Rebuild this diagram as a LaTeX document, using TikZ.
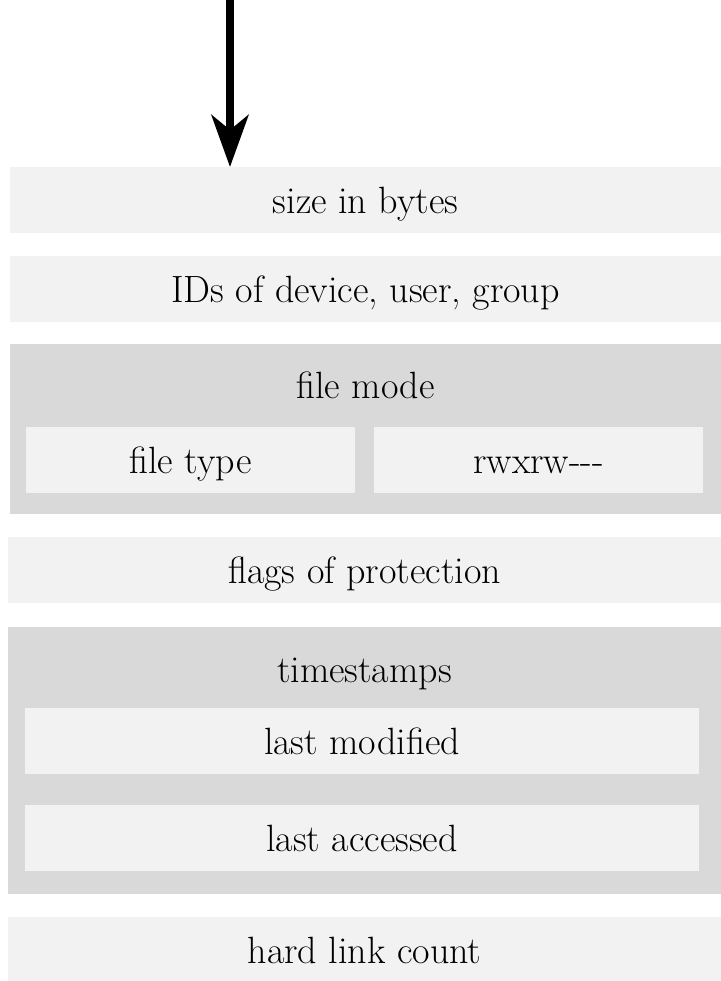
\documentclass[tikz,border=0pt]{standalone}
\usepackage{tikz}
\usetikzlibrary{positioning, arrows.meta}

\definecolor{cellgray}{HTML}{F2F2F2}
\definecolor{groupgray}{HTML}{D9D9D9}

\begin{document}
\begin{tikzpicture}[
        cell/.style={
            fill=cellgray, inner sep=0pt, outer sep=0pt,
            minimum width=356.5pt, minimum height=33pt,
            font=\fontsize{19}{23}\selectfont,
            text height=13pt, text depth=0pt
        },
        group/.style={
            fill=groupgray, inner sep=0pt, outer sep=0pt,
            minimum width=356.5pt
        },
        grouplabel/.style={
            inner sep=0pt, font=\fontsize{19}{23}\selectfont,
            text height=13pt, text depth=0pt
        },
        arr/.style={-{Stealth[length=26pt, width=18.5pt, inset=7.5pt]}, line width=4pt}
    ]
    \useasboundingbox (0,0) rectangle (360.5pt,-490.5pt);

    \node[cell, minimum width=355.5pt, anchor=north east] (size) at (360.5pt,-83.5pt) {size in bytes};
    \node[cell, minimum width=355.5pt, below left=11.5pt and 0pt of size.south east] (ids) {IDs of device, user, group};

    % file mode
    \node[group, minimum width=355.5pt, minimum height=85pt, below left=11pt and 0pt of ids.south east] (mode) {};
    \node[grouplabel] (modelabel) at ([yshift=-20.75pt]mode.north) {file mode};
    \node[cell, minimum width=164.5pt, above right=10.5pt and 8pt of mode.south west] (ftype) {file type};
    \node[cell, minimum width=164.5pt, above left=10.5pt and 9pt of mode.south east] (perms) {rwxrw-{}-{}-};

    \node[cell, below left=11.5pt and 0pt of mode.south east] (flags) {flags of protection};

    % timestamps
    \node[group, minimum height=133.5pt, below left=12pt and 0pt of flags.south east] (stamps) {};
    \node[grouplabel] (stampslabel) at ([yshift=-21pt]stamps.north) {timestamps};
    \node[cell, minimum width=337pt, above right=11.5pt and 8.5pt of stamps.south west] (accessed) {last accessed};
    \node[cell, minimum width=337pt, above=15.5pt of accessed] (modified) {last modified};

    \node[cell, below left=11.5pt and 0pt of stamps.south east] (links) {hard link count};

    \coordinate (entry) at (115pt,0);
    \draw[arr] (entry) -- (entry |- size.north);
\end{tikzpicture}
\end{document}
